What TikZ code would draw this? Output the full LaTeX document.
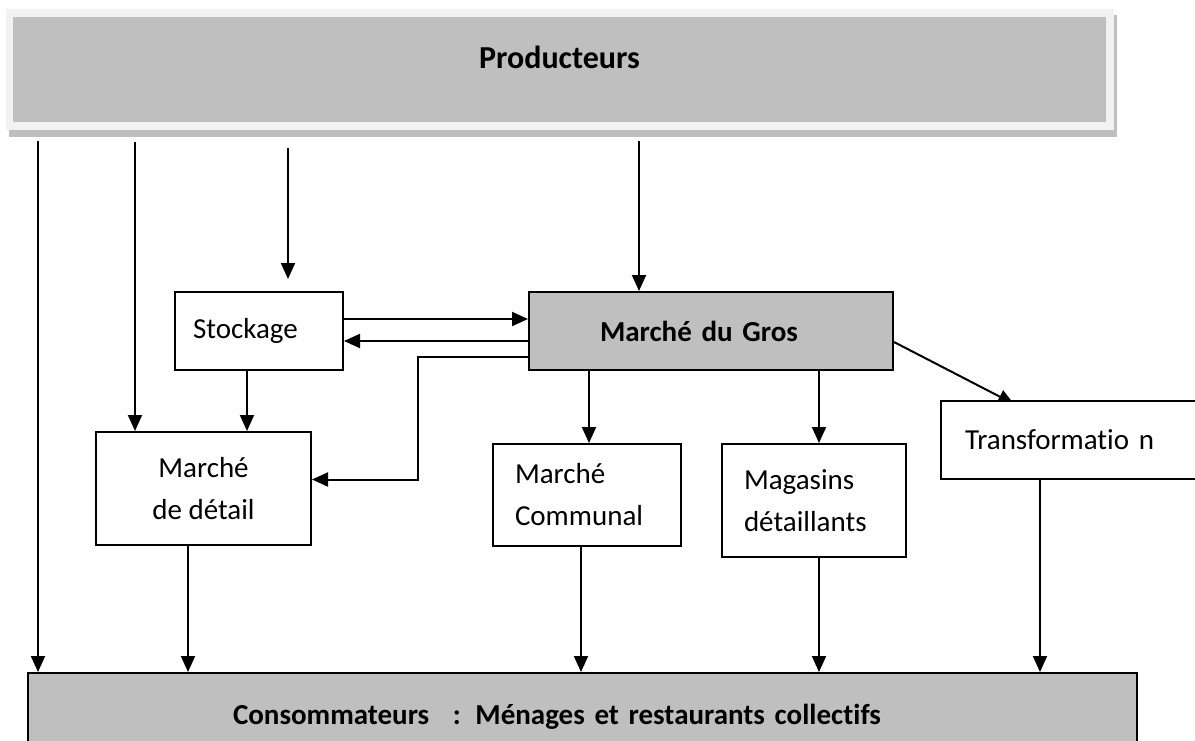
\documentclass[tikz,border=0pt]{standalone}
\usepackage{fontspec}
\setmainfont[Ligatures=NoCommon]{Carlito}
\usepackage{tikz}
\usetikzlibrary{arrows.meta}

\definecolor{boxgray}{HTML}{BFBFBF}
\definecolor{framegray}{HTML}{F2F2F2}

\begin{document}
\begin{tikzpicture}[x=0.5pt, y=-0.5pt, line width=1pt,
		>={Triangle[length=8pt,width=7pt]},
		box/.style={rectangle,draw,fill=white,inner ysep=0pt,font=\fontsize{14.5}{21}\selectfont},
		bold box/.style={box,fill=boxgray,font=\fontsize{14.5}{21}\selectfont\bfseries}]

			\useasboundingbox (0,0) rectangle (1195,740);
			\clip (0,0) rectangle (1195,740);

			% producteurs (bandeau du haut)
			\fill[boxgray] (9,15) rectangle (1117,137);
			\fill[framegray] (6,9) rectangle (1114,130);
			\fill[boxgray] (13,17) rectangle (1106,122);
			\node[font=\fontsize{16}{19}\selectfont\bfseries] (prod) at (559.5,57) {Producteurs};

			\node[box, minimum height=39pt, text width=66pt, inner xsep=9pt, align=left] (stock) at (259,331) {Stockage};
			\node[bold box, minimum height=39pt, text width=111pt, inner xsep=35.5pt, align=left] (gros) at (711,331) {Marché du Gros};
			\node[box, minimum width=107.5pt, minimum height=56.5pt, align=center] (detail) at (203.5,488.5) {Marché\\de détail};
			\node[box, minimum height=51pt, text width=72pt, inner xsep=11pt, align=left] (commun) at (587,495) {Marché\\Communal};
			\node[box, minimum height=56.5pt, text width=70pt, inner xsep=11pt, align=left] (magasin) at (814,500.5) {Magasins\\détaillants};
			\node[box, minimum height=39pt, text width=113pt, inner xsep=12pt, align=left] (transf) at (1078,440) {Transformatio n};
			\node[bold box, minimum height=44pt, text width=349.5pt, inner xsep=102.5pt, align=left] (cons) at (582.5,717) {Consommateurs\hspace{7pt} : Ménages et restaurants collectifs};

			% departs sous les producteurs
			\coordinate (p1) at (38,141);
			\coordinate (p2) at (135,142);
			\coordinate (p3) at (288,148);
			\coordinate (p4) at (639,141);

			\draw[->] (p1) -- (p1 |- cons.north);
			\draw[->] (p2) -- (p2 |- detail.north);
			\draw[->, shorten >=6pt] (p3) -- (p3 |- stock.north);
			\draw[->] (p4) -- (p4 |- gros.north);

			% stockage <-> gros
			\draw[->] ([yshift=6pt]stock.east) -- ([yshift=6pt]stock.east -| gros.west);
			\draw[->] ([yshift=-5pt]gros.west) -- ([yshift=-5pt]gros.west -| stock.east);
			\draw[->] ([xshift=-6pt]stock.south) -- ([xshift=-6pt]stock.south |- detail.north);
			\draw[->] ([yshift=-13pt]gros.west) -- ++(-110,0) |- ([yshift=4.5pt]detail.east);

			% gros vers l'aval
			\draw[->] ([xshift=-61pt]gros.south) -- ([xshift=-61pt]gros.south |- commun.north);
			\draw[->] ([xshift=54pt]gros.south) -- ([xshift=54pt]gros.south |- magasin.north);
			\draw[->] ([yshift=-5.5pt]gros.east) -- ([xshift=-32pt,yshift=-2pt]transf.north);
			\node[box, minimum height=39pt, text width=113pt, inner xsep=12pt, align=left] at (transf) {Transformatio n};

			% vers les consommateurs
			\draw[->] ([xshift=-7.75pt]detail.south) -- ([xshift=-7.75pt]detail.south |- cons.north);
			\draw[->] ([xshift=-3pt]commun.south) -- ([xshift=-3pt]commun.south |- cons.north);
			\draw[->] ([xshift=2.5pt]magasin.south) -- ([xshift=2.5pt]magasin.south |- cons.north);
			\draw[->] ([xshift=-19pt]transf.south) -- ([xshift=-19pt]transf.south |- cons.north);
\end{tikzpicture}
\end{document}
